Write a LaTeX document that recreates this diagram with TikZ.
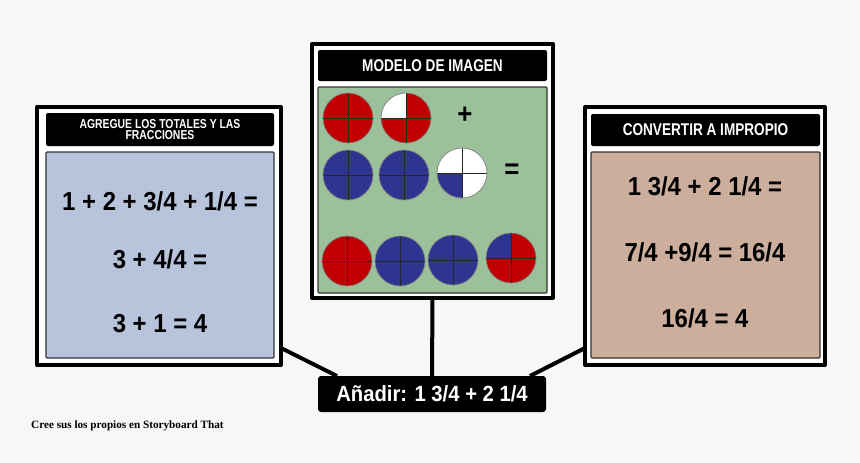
\documentclass[tikz,border=0pt]{standalone}
\usepackage{fontspec}
\setmainfont{Liberation Sans}
\newfontfamily\headfont[FakeStretch=0.8]{Liberation Sans}
\newfontfamily\eqfont[FakeStretch=0.92]{Liberation Sans}
\newfontfamily\footfont{Liberation Serif}
\usetikzlibrary{calc}

\definecolor{pagegray}{HTML}{F7F7F7}
\definecolor{pred}{HTML}{C00000}
\definecolor{pblue}{HTML}{2E3591}
\definecolor{leftblue}{HTML}{B8C3DC}
\definecolor{midgreen}{HTML}{9BC09A}
\definecolor{righttan}{HTML}{CBAE9C}
\definecolor{boxedge}{HTML}{333333}

% quarter-cut disc: centre, then NE, NW, SW, SE colours
\newcommand{\quadpie}[5]{%
	\begin{scope}[shift={#1}, y=1pt]
		\fill[#2] (0,0) -- (25,0) arc[start angle=0, end angle=90, radius=25] -- cycle;
		\fill[#3] (0,0) -- (0,25) arc[start angle=90, end angle=180, radius=25] -- cycle;
		\fill[#4] (0,0) -- (-25,0) arc[start angle=180, end angle=270, radius=25] -- cycle;
		\fill[#5] (0,0) -- (0,-25) arc[start angle=270, end angle=360, radius=25] -- cycle;
		\draw[black!85, line width=1pt] (-25,0) -- (25,0) (0,-25) -- (0,25);
		\draw[gray, line width=.7pt] (0,0) circle (25);
	\end{scope}}

\begin{document}
\begin{tikzpicture}[x=1pt, y=-1pt, line join=round,
	frame/.style={draw=black, line width=4pt, fill=white, anchor=north west, inner sep=0pt, outer sep=0pt},
	headbox/.style={fill=black, rounded corners=2pt, anchor=north west, inner sep=0pt, outer sep=0pt, text=white, align=center, font=\headfont\bfseries\fontsize{17}{17}\selectfont},
	bodybox/.style={draw=boxedge, line width=1.2pt, rounded corners=1pt, anchor=north west, inner sep=0pt, outer sep=0pt},
	eq/.style={anchor=base, inner sep=0pt, font=\eqfont\bfseries\fontsize{26}{26}\selectfont},
	conn/.style={line width=4pt},
	labelbox/.style={fill=black, rounded corners=3pt, inner sep=0pt, outer sep=0pt, text=white, font=\eqfont\bfseries\fontsize{22}{22}\selectfont}]
	\fill[pagegray] (0,0) rectangle (860,463);
	\useasboundingbox (0,0) rectangle (860,463);

	% left panel
	\node[frame, minimum width=244, minimum height=258] (leftframe) at (37,107) {};
	\node[headbox, minimum width=228, minimum height=33, font=\headfont\bfseries\fontsize{13}{11.5}\selectfont] (lefthead) at (46,113) {AGREGUE LOS TOTALES Y LAS\\FRACCIONES};
	\node[bodybox, fill=leftblue, minimum width=228, minimum height=206] (leftbody) at (46,152) {};
	\node[eq] (lefteqa) at (160,210) {1 + 2 + 3/4 + 1/4 =};
	\node[eq] (lefteqb) at (160,268) {3 + 4/4 =};
	\node[eq] (lefteqc) at (160,332) {3 + 1 = 4};

	% middle panel
	\node[frame, minimum width=241, minimum height=254] (midframe) at (312,44) {};
	\node[headbox, minimum width=229, minimum height=31] (midhead) at (318,50) {MODELO DE IMAGEN};
	\node[bodybox, fill=midgreen, minimum width=229, minimum height=206] (midbody) at (318,87) {};
	\foreach \cx/\cy/\qa/\qb/\qc/\qd in {348/118/pred/pred/pred/pred, 406/118/pred/white/pred/pred,
		348/175/pblue/pblue/pblue/pblue, 404/175/pblue/pblue/pblue/pblue, 462/173/white/white/pblue/white,
		347/261/pred/pred/pred/pred, 400/261/pblue/pblue/pblue/pblue, 453/260/pblue/pblue/pblue/pblue,
		511/258/pred/pblue/pred/pred}
		\quadpie{(\cx,\cy)}{\qa}{\qb}{\qc}{\qd};
	\node[font=\eqfont\bfseries\fontsize{28}{28}\selectfont, inner sep=0pt] (plussign) at (465,115) {+};
	\node[font=\eqfont\bfseries\fontsize{28}{28}\selectfont, inner sep=0pt] (eqsign) at (512,171) {=};

	% right panel
	\node[frame, minimum width=240, minimum height=258] (rightframe) at (585,107) {};
	\node[headbox, minimum width=229, minimum height=32] (righthead) at (591,114) {CONVERTIR A IMPROPIO};
	\node[bodybox, fill=righttan, minimum width=229, minimum height=206] (rightbody) at (591,152) {};
	\node[eq] (righteqa) at (705,195) {1 3/4 + 2 1/4 =};
	\node[eq] (righteqb) at (705,261) {7/4 +9/4 = 16/4};
	\node[eq] (righteqc) at (705,327) {16/4 = 4};

	% label and connectors
	\node[labelbox, minimum width=228, minimum height=36] (addlabel) at (432,394) {Añadir: 1 3/4 + 2 1/4};
	\draw[conn] (midframe.south) -- (addlabel.north);
	\draw[conn] ($(leftframe.south east)+(0,-17)$) -- ($(addlabel.north west)+(19,0)$);
	\draw[conn] ($(rightframe.south west)+(0,-17)$) -- ($(addlabel.north east)+(-16,0)$);

	\node[anchor=base west, inner sep=0pt, font=\footfont\bfseries\fontsize{11.2}{11.2}\selectfont] (credit) at (31,428) {Cree sus los propios en Storyboard That};
\end{tikzpicture}
\end{document}
